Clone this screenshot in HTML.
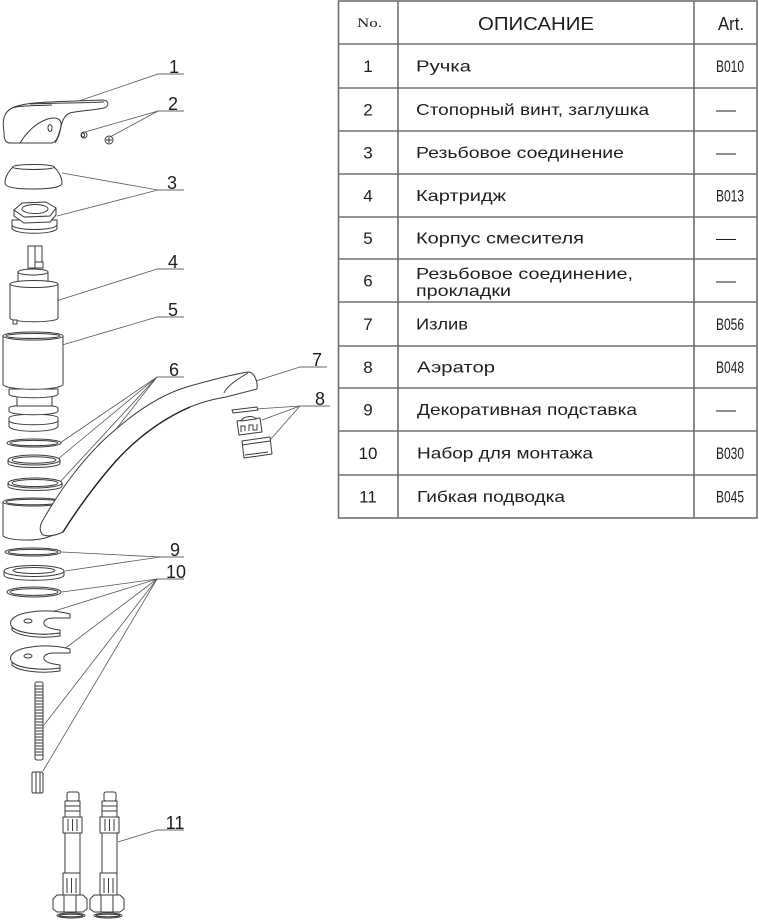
<!DOCTYPE html>
<html><head><meta charset="utf-8"><style>
html,body{margin:0;padding:0;background:#fff;}
svg{display:block;}
.t{font-family:"Liberation Sans","DejaVu Sans",sans-serif;fill:#1e1e1e;}
.p{fill:#fff;stroke:#3a3a3a;stroke-width:1;stroke-linejoin:round;}
.n{fill:none;stroke:#3a3a3a;stroke-width:1;}
.l{fill:none;stroke:#555;stroke-width:0.8;}
.u{fill:none;stroke:#666;stroke-width:1;}
.g{fill:none;stroke:#707070;stroke-width:1.6;}
</style></head><body>
<svg width="759" height="920" viewBox="0 0 759 920" xmlns="http://www.w3.org/2000/svg">
<!-- TABLE -->
<rect x="338.5" y="1" width="418.5" height="517" class="g"/>
<line x1="398" y1="1" x2="398" y2="518" class="g"/>
<line x1="694" y1="1" x2="694" y2="518" class="g"/>
<g class="g">
<line x1="338" y1="44" x2="757" y2="44"/>
<line x1="338" y1="88" x2="757" y2="88"/>
<line x1="338" y1="131" x2="757" y2="131"/>
<line x1="338" y1="174" x2="757" y2="174"/>
<line x1="338" y1="217" x2="757" y2="217"/>
<line x1="338" y1="259" x2="757" y2="259"/>
<line x1="338" y1="302" x2="757" y2="302"/>
<line x1="338" y1="346" x2="757" y2="346"/>
<line x1="338" y1="388" x2="757" y2="388"/>
<line x1="338" y1="431" x2="757" y2="431"/>
<line x1="338" y1="475" x2="757" y2="475"/>
</g>
<text x="357" y="27" font-family="Liberation Serif,serif" font-size="13" fill="#1e1e1e" textLength="25" lengthAdjust="spacingAndGlyphs">No.</text>
<text class="t" x="478" y="30" font-size="18" textLength="116" lengthAdjust="spacingAndGlyphs">ОПИСАНИЕ</text>
<text class="t" x="718" y="30" font-size="18" textLength="26" lengthAdjust="spacingAndGlyphs">Art.</text>

<g class="t" font-size="17" text-anchor="middle">
<text x="368" y="72">1</text>
<text x="368" y="115.5">2</text>
<text x="368" y="158.5">3</text>
<text x="368" y="201.5">4</text>
<text x="368" y="244">5</text>
<text x="368" y="286.5">6</text>
<text x="368" y="330">7</text>
<text x="368" y="373">8</text>
<text x="368" y="415.5">9</text>
<text x="368" y="459">10</text>
<text x="368" y="502.5">11</text>
</g>
<g class="t" font-size="16">
<text x="416" y="71.5" textLength="55" lengthAdjust="spacingAndGlyphs">Ручка</text>
<text x="416" y="115" textLength="233" lengthAdjust="spacingAndGlyphs">Стопорный винт, заглушка</text>
<text x="416" y="158" textLength="208" lengthAdjust="spacingAndGlyphs">Резьбовое соединение</text>
<text x="416" y="201" textLength="90" lengthAdjust="spacingAndGlyphs">Картридж</text>
<text x="416" y="243.5" textLength="168" lengthAdjust="spacingAndGlyphs">Корпус смесителя</text>
<text x="416" y="279" textLength="217" lengthAdjust="spacingAndGlyphs">Резьбовое соединение,</text>
<text x="416" y="296" textLength="95" lengthAdjust="spacingAndGlyphs">прокладки</text>
<text x="416" y="329.5" textLength="52" lengthAdjust="spacingAndGlyphs">Излив</text>
<text x="417" y="372.5" textLength="78" lengthAdjust="spacingAndGlyphs">Аэратор</text>
<text x="417" y="415" textLength="220" lengthAdjust="spacingAndGlyphs">Декоративная подставка</text>
<text x="417" y="458.5" textLength="176" lengthAdjust="spacingAndGlyphs">Набор для монтажа</text>
<text x="417" y="502" textLength="148" lengthAdjust="spacingAndGlyphs">Гибкая подводка</text>
</g>
<g class="t" font-size="17" text-anchor="middle">
<text x="730" y="72" textLength="28" lengthAdjust="spacingAndGlyphs">B010</text>
<text x="730" y="201.5" textLength="28" lengthAdjust="spacingAndGlyphs">B013</text>
<text x="730" y="330" textLength="28" lengthAdjust="spacingAndGlyphs">B056</text>
<text x="730" y="373" textLength="28" lengthAdjust="spacingAndGlyphs">B048</text>
<text x="730" y="459" textLength="28" lengthAdjust="spacingAndGlyphs">B030</text>
<text x="730" y="502.5" textLength="28" lengthAdjust="spacingAndGlyphs">B045</text>
</g>
<g class="t" font-size="16" text-anchor="middle">
<text x="726" y="115" textLength="20" lengthAdjust="spacingAndGlyphs">—</text>
<text x="726" y="158" textLength="20" lengthAdjust="spacingAndGlyphs">—</text>
<text x="726" y="243.5" textLength="20" lengthAdjust="spacingAndGlyphs">—</text>
<text x="726" y="286" textLength="20" lengthAdjust="spacingAndGlyphs">—</text>
<text x="726" y="415" textLength="20" lengthAdjust="spacingAndGlyphs">—</text>
</g>

<!-- LABELS + LEADERS -->
<g class="t" font-size="18" text-anchor="middle">
<text x="174" y="73">1</text>
<text x="173" y="110">2</text>
<text x="172" y="189">3</text>
<text x="173" y="268">4</text>
<text x="173" y="316">5</text>
<text x="174" y="376">6</text>
<text x="317" y="366">7</text>
<text x="320" y="405">8</text>
<text x="175" y="556">9</text>
<text x="176" y="578">10</text>
<text x="175" y="829">11</text>
</g>
<g class="u">
<line x1="157" y1="74" x2="184" y2="74"/>
<line x1="157" y1="111" x2="184" y2="111"/>
<line x1="157" y1="190" x2="184" y2="190"/>
<line x1="157" y1="269" x2="184" y2="269"/>
<line x1="157" y1="317" x2="184" y2="317"/>
<line x1="157" y1="377" x2="184" y2="377"/>
<line x1="300" y1="367" x2="327" y2="367"/>
<line x1="300" y1="406" x2="330" y2="406"/>
<line x1="157" y1="557" x2="184" y2="557"/>
<line x1="157" y1="579" x2="184" y2="579"/>
<line x1="157" y1="830" x2="184" y2="830"/>
</g>
<g class="l">
<line x1="158" y1="74" x2="76" y2="102"/>
<line x1="158" y1="111" x2="85" y2="132"/>
<line x1="158" y1="111" x2="110" y2="137"/>
<line x1="158" y1="190" x2="62" y2="173"/>
<line x1="158" y1="190" x2="57" y2="216"/>
<line x1="157" y1="269" x2="53" y2="302"/>
<line x1="157" y1="317" x2="52" y2="348"/>
<line x1="157" y1="377" x2="60" y2="443"/>
<line x1="157" y1="377" x2="58" y2="459"/>
<line x1="157" y1="377" x2="60" y2="482"/>
<line x1="157" y1="377" x2="61" y2="499"/>
<line x1="300" y1="367" x2="243" y2="385"/>
<line x1="300" y1="406" x2="256" y2="409"/>
<line x1="300" y1="406" x2="262" y2="420"/>
<line x1="300" y1="406" x2="270" y2="440"/>
<line x1="160" y1="557" x2="62" y2="552"/>
<line x1="160" y1="557" x2="65" y2="571"/>
<line x1="157" y1="579" x2="62" y2="592"/>
<line x1="157" y1="579" x2="48" y2="613"/>
<line x1="157" y1="579" x2="63" y2="650"/>
<line x1="157" y1="579" x2="44" y2="725"/>
<line x1="157" y1="579" x2="43" y2="771"/>
<line x1="157" y1="830" x2="118" y2="842"/>
</g>

<!-- PART 1 handle -->
<path class="p" d="M4,132 C2,120 4,112 12,108 C25,102 50,102 75,101 L102,100 C109,100 110,106 104,108 C95,110 78,111 70,113 C64,115 62,122 60,130 C58,137 57,141 52,143 L10,143 C5,143 4,139 4,132 Z"/>
<path class="n" d="M12,108 C22,105 38,106 52,105"/>
<path class="n" d="M30,104 C55,103 85,103 104,102"/>
<path class="n" d="M20,143 C26,133 35,124 45,120 C55,116 62,118 61,126 C60,134 57,140 55,143"/>
<ellipse class="p" cx="50" cy="128" rx="2" ry="3.5"/>
<!-- PART 2 -->
<ellipse class="p" cx="84" cy="135" rx="3" ry="3"/>
<ellipse class="n" cx="83" cy="135" rx="1.5" ry="2"/>
<ellipse class="p" cx="109" cy="140" rx="4" ry="4"/>
<path class="n" d="M106,140 L112,140 M109,137 L109,143"/>
<!-- PART 3 dome -->
<path class="p" d="M5,183 C5,176 9,171 13,167 L54,167 C58,171 62,176 62,183 C62,188 45,189 33,189 C20,189 5,188 5,183 Z"/>
<ellipse class="p" cx="33.5" cy="167" rx="21" ry="2.5"/>
<!-- nut -->
<path class="p" d="M12,220 L12,228 C12,235 57,235 57,228 L57,220 Z"/>
<path class="n" d="M12,225 C14,231 55,231 57,225"/>
<path class="p" d="M14,210 L14,216 L24,223 L50,222 L56,215 L56,208 L50,216 L24,217 Z"/>
<path class="p" d="M14,210 L22,203 L46,202 L56,208 L50,216 L24,217 Z"/>
<ellipse class="p" cx="35" cy="209" rx="13" ry="4.5"/>
<!-- PART 4 cartridge -->
<rect class="p" x="28" y="246" width="14" height="22"/>
<line class="n" x1="35" y1="246" x2="35" y2="262"/>
<rect class="p" x="35" y="262" width="8" height="6"/>
<path class="p" d="M18,272 L18,283 C18,286 48,286 48,283 L48,272 Z"/>
<ellipse class="p" cx="33" cy="272" rx="15" ry="3"/>
<path class="p" d="M10,284 L10,318 C10,323 58,323 58,318 L58,284 Z"/>
<ellipse class="p" cx="34" cy="284" rx="24" ry="3.5"/>
<rect class="p" x="13" y="320" width="4" height="4"/>
<!-- PART 5 body (grooves bottom-up) -->
<path class="p" d="M9,418 L9,426 C9,433 58,433 58,426 L58,418 C58,413 9,413 9,418 Z"/>
<path class="n" d="M9,421 C12,426 55,426 58,421"/>
<path class="p" d="M9,408 L9,411 C9,416 58,416 58,411 L58,408 C58,404 9,404 9,408 Z"/>
<rect class="p" x="17" y="395" width="35" height="11"/>
<path class="p" d="M9,389 L9,394 C9,399 58,399 58,394 L58,389 Z"/>
<path class="p" d="M3,336 L3,384 C3,391 63,391 63,384 L63,336 Z"/>
<ellipse class="p" cx="33" cy="336" rx="30" ry="4"/>
<ellipse class="n" cx="33" cy="336" rx="27" ry="2.5"/>
<!-- PART 6 rings -->
<ellipse class="p" cx="34" cy="443" rx="27" ry="4"/>
<ellipse class="n" cx="34" cy="443" rx="24" ry="2.6"/>
<path class="p" d="M8,460 L8,463 C8,469 60,469 60,463 L60,460"/>
<ellipse class="p" cx="34" cy="460" rx="26" ry="5"/>
<ellipse class="n" cx="34" cy="460" rx="22" ry="3.2"/>
<path class="p" d="M8,483 L8,486 C8,492 62,492 62,486 L62,483"/>
<ellipse class="p" cx="35" cy="483" rx="27" ry="5"/>
<ellipse class="n" cx="35" cy="483" rx="23" ry="3.5"/>
<!-- base + spout -->
<path class="p" d="M3,502 L3,536 C10,541 35,541 45,538 L63,532 L63,502 Z"/>
<ellipse class="p" cx="33" cy="502" rx="30" ry="4"/>
<ellipse class="n" cx="33" cy="502" rx="27" ry="2.8"/>
<path class="p" d="M43,520 C60,490 85,455 115,430 C140,408 165,393 190,386 C215,379 235,374 248,372 C254,372 258,381 257,389 L226,397 C215,399 205,401 190,407 C160,420 135,440 115,462 C95,485 80,505 63,532 C55,536 45,537 42,534 C39,530 40,525 43,520 Z"/>
<path class="n" d="M224,393 C226,388 232,382 248,373"/>
<path stroke="#222" stroke-width="1.4" fill="none" d="M63,532 C80,505 95,485 115,462 C135,440 160,420 190,407"/>
<!-- PART 8 aerator -->
<path class="p" d="M232,410 L257,407 L258,410 L233,413 Z"/>
<path class="p" d="M237,421 L260,418 L262,432 L239,435 Z"/>
<path class="p" d="M241,421 C243,416 254,415 256,419 Z"/>
<path class="n" d="M241,432 L241,426 L245,426 L245,431 M249,431 L249,425 L253,425 L253,430 L257,430 L257,424"/>
<path class="p" d="M242,441 L270,437 L272,454 L244,458 Z"/>
<path class="n" d="M242,445 L270,441 M245,455 L268,452"/>
<!-- PART 9 -->
<ellipse class="p" cx="33" cy="552" rx="28" ry="4"/>
<ellipse class="n" cx="33" cy="552" rx="25" ry="2.6"/>
<path class="p" d="M4,571 L4,575 C4,582 64,582 64,575 L64,571"/>
<ellipse class="p" cx="34" cy="571" rx="30" ry="5.5"/>
<ellipse class="n" cx="34" cy="570.5" rx="21" ry="3"/>
<!-- PART 10 -->
<ellipse class="p" cx="34" cy="592" rx="27" ry="5"/>
<ellipse class="n" cx="34" cy="592" rx="24" ry="3.4"/>
<g id="plate">
<path class="p" d="M12,627 L12,630 C18,636 40,639 60,636 L60,633 C40,636 18,633 12,627 Z"/>
<path class="p" d="M70,618 L70,614 C55,610 40,610 25,613 C12,616 8,622 12,627 C18,633 40,636 60,633 L60,630 C52,629 45,627 44,624 C43,620 48,618 54,618 Z"/>
<ellipse class="p" cx="28" cy="621" rx="4" ry="2"/>
</g>
<use href="#plate" transform="translate(0,35)"/>
<!-- stud -->
<rect class="p" x="35" y="682" width="8" height="78" rx="2"/>
<path class="n" stroke-width="0.6" d="M35,686h8M35,689h8M35,692h8M35,695h8M35,698h8M35,701h8M35,704h8M35,707h8M35,710h8M35,713h8M35,716h8M35,719h8M35,722h8M35,725h8M35,728h8M35,731h8M35,734h8M35,737h8M35,740h8M35,743h8M35,746h8M35,749h8M35,752h8M35,755h8"/>
<rect class="p" x="32" y="772" width="11" height="21" rx="1.5"/>
<path class="n" d="M36,772 L36,793 M40,772 L40,793"/>
<!-- PART 11 hoses -->
<g id="hose">
<rect class="p" x="67" y="792" width="12" height="9" rx="2"/>
<rect class="p" x="65" y="801" width="15" height="16"/>
<path class="n" d="M65,806 h15 M65,811 h15"/>
<rect class="p" x="63" y="817" width="19" height="16"/>
<path class="n" d="M68,819 v12 M72.5,819 v12 M77,819 v12"/>
<rect class="p" x="65" y="833" width="15" height="40"/>
<rect class="p" x="63" y="873" width="17" height="22"/>
<path class="n" d="M67,878 v15 M71.5,878 v15 M76,878 v15"/>
<path class="p" d="M53,899 L57,895 L83,895 L87,899 L87,909 L83,912 L57,912 L53,909 Z"/>
<path class="n" d="M64,895 v17 M76,895 v17"/>
<ellipse class="p" cx="71" cy="915.5" rx="14" ry="2.5"/>
<ellipse class="n" cx="71" cy="915.5" rx="12" ry="1.3"/>
</g>
<use href="#hose" transform="translate(37,0)"/>
</svg>
</body></html>
